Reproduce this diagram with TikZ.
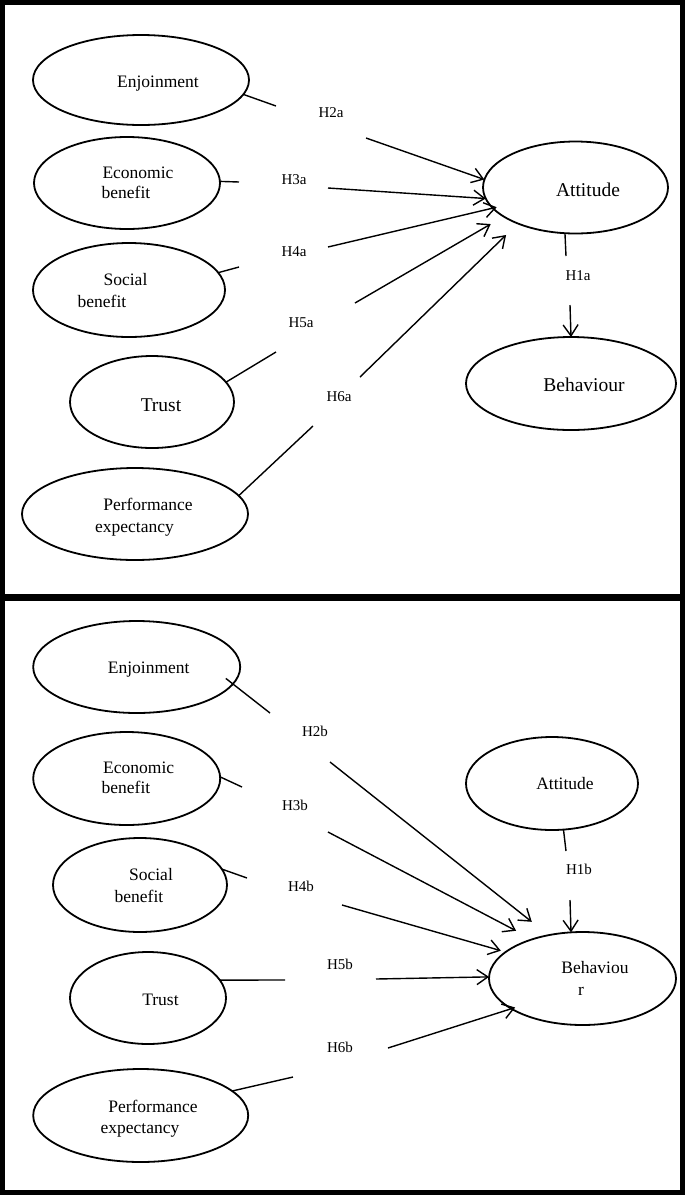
\documentclass[tikz,border=0pt]{standalone}
\usepackage{fontspec}
\setmainfont{Liberation Serif}
\usetikzlibrary{shapes.geometric,arrows.meta}
\begin{document}
\begin{tikzpicture}[x=1pt,y=-1pt,
 ell/.style={draw,ellipse,line width=1.8pt,inner sep=0pt,outer sep=0pt},
 txt/.style={font=\fontsize{17.5}{20}\selectfont,anchor=base,inner sep=0pt},
 big/.style={font=\fontsize{19.5}{22}\selectfont,anchor=base,inner sep=0pt},
 hlab/.style={font=\fontsize{15}{17}\selectfont,anchor=base,inner sep=0pt},
 conn/.style={line width=1.4pt},
 arr/.style={line width=1.4pt,-{Straight Barb[length=11pt,width=15pt]}},
 frame/.style={line width=4.5pt}]
\useasboundingbox (0,0) rectangle (685,1195);
\fill[white] (0,0) rectangle (685,1195);
% frames
\draw[frame] (2.5,2.5) rectangle (682.5,596.3);
\draw[frame] (2.5,598.7) rectangle (682.5,1192.5);

% ===== top panel =====
\node[ell,minimum width=216pt,minimum height=90pt] (enjA) at (141,80) {};
\node[ell,minimum width=186pt,minimum height=92pt] (ecoA) at (127,183) {};
\node[ell,minimum width=192pt,minimum height=94pt] (socA) at (129,290) {};
\node[ell,minimum width=164pt,minimum height=92pt] (truA) at (152,402) {};
\node[ell,minimum width=226pt,minimum height=92pt] (perA) at (135,514) {};
\node[ell,minimum width=185pt,minimum height=92pt] (attA) at (575.5,187.5) {};
\node[ell,minimum width=210pt,minimum height=93pt] (behA) at (571,383.5) {};

\node[txt] (tEnjA) at (158,87.5) {Enjoinment};
\node[txt] (tEcoA1) at (138,178.5) {Economic};
\node[txt] (tEcoA2) at (126,198.5) {benefit};
\node[txt] (tSocA1) at (125.5,285.5) {Social};
\node[txt] (tSocA2) at (102,307.5) {benefit};
\node[big] (tTruA) at (161,411) {Trust};
\node[txt] (tPerA1) at (148,510.5) {Performance};
\node[txt] (tPerA2) at (134.5,532.5) {expectancy};
\node[big] (tAttA) at (588,196) {Attitude};
\node[big] (tBehA) at (584,391) {Behaviour};

\node[hlab] (h2a) at (331,117.5) {H2a};
\node[hlab] (h3a) at (294,184.5) {H3a};
\node[hlab] (h4a) at (294,256.5) {H4a};
\node[hlab] (h5a) at (301,327.5) {H5a};
\node[hlab] (h6a) at (339,401.5) {H6a};
\node[hlab] (h1a) at (578,280.5) {H1a};

\coordinate (c2a1) at (276,106); \coordinate (c2a2) at (366,138);
\coordinate (c3a1) at (239,182); \coordinate (c3a2) at (328,188);
\coordinate (c4a1) at (239,267); \coordinate (c4a2) at (328,247);
\coordinate (c5a1) at (276,352); \coordinate (c5a2) at (355,303);
\coordinate (c6a1) at (313,426); \coordinate (c6a2) at (360,377);
\coordinate (c1a1) at (566,256); \coordinate (c1a2) at (570,305);

\draw[conn] (enjA.-8) -- (c2a1);
\draw[arr] (c2a2) -- (attA.175.4);
\draw[conn] (ecoA.1) -- (c3a1);
\draw[arr] (c3a2) -- (attA.187.2);
\draw[conn] (socA.11) -- (c4a1);
\draw[arr,shorten >=-4pt] (c4a2) -- (attA.194.4);
\draw[conn] (truA.15) -- (c5a1);
\draw[arr,shorten >=15pt] (c5a2) -- (attA.202);
\draw[conn] (perA.10.5) -- (c6a1);
\draw[arr,shorten >=16.5pt] (c6a2) -- (attA.212);
\draw[conn] (attA.257.7) -- (c1a1);
\draw[arr] (c1a2) -- (behA.90);

% ===== bottom panel =====
\node[ell,minimum width=207pt,minimum height=92pt] (enjB) at (136.7,667) {};
\node[ell,minimum width=187pt,minimum height=93pt] (ecoB) at (126.7,778.5) {};
\node[ell,minimum width=174pt,minimum height=94pt] (socB) at (140,885) {};
\node[ell,minimum width=156pt,minimum height=92pt] (truB) at (148,998) {};
\node[ell,minimum width=215pt,minimum height=93pt] (perB) at (140.7,1115.5) {};
\node[ell,minimum width=172pt,minimum height=93pt] (attB) at (552,783.5) {};
\node[ell,minimum width=187pt,minimum height=93pt] (behB) at (582.5,978.5) {};

\node[txt] (tEnjB) at (148.7,673.5) {Enjoinment};
\node[txt] (tEcoB1) at (138.7,773.5) {Economic};
\node[txt] (tEcoB2) at (126,793.5) {benefit};
\node[txt] (tSocB1) at (151,880.5) {Social};
\node[txt] (tSocB2) at (139,902.5) {benefit};
\node[txt] (tTruB) at (160.5,1005.5) {Trust};
\node[txt] (tPerB1) at (153,1112.5) {Performance};
\node[txt] (tPerB2) at (140,1133.5) {expectancy};
\node[txt] (tAttB) at (565,789.5) {Attitude};
\node[txt] (tBehB1) at (595,973.5) {Behaviou};
\node[txt] (tBehB2) at (581,995.5) {r};

\node[hlab] (h2b) at (315,736.5) {H2b};
\node[hlab] (h3b) at (295,810.5) {H3b};
\node[hlab] (h4b) at (301,891.5) {H4b};
\node[hlab] (h5b) at (340,969.5) {H5b};
\node[hlab] (h6b) at (340,1052.5) {H6b};
\node[hlab] (h1b) at (579,874.5) {H1b};

\coordinate (c2b1) at (270,713); \coordinate (c2b2) at (330,762);
\coordinate (c3b1) at (242,787); \coordinate (c3b2) at (328,832);
\coordinate (c4b1) at (247,878); \coordinate (c4b2) at (342,905);
\coordinate (c5b1) at (285,980); \coordinate (c5b2) at (376,979);
\coordinate (c6b1) at (293,1077); \coordinate (c6b2) at (388,1048);
\coordinate (c1b1) at (566,851); \coordinate (c1b2) at (570,900);

\draw[conn,shorten <=-9pt] (enjB.-10.3) -- (c2b1);
\draw[arr,shorten >=21.5pt] (c2b2) -- (behB.128.8);
\draw[conn] (ecoB.1) -- (c3b1);
\draw[arr,shorten >=18.3pt] (c3b2) -- (behB.142.8);
\draw[conn] (socB.11.1) -- (c4b1);
\draw[arr,shorten >=5pt] (c4b2) -- (behB.161.5);
\draw[conn] (truB.14.1) -- (c5b1);
\draw[arr] (c5b2) -- (behB.179.5);
\draw[conn] (perB.15) -- (c6b1);
\draw[arr,shorten >=-4pt] (c6b2) -- (behB.203.6);
\draw[conn] (attB.284.6) -- (c1b1);
\draw[arr] (c1b2) -- (behB.104);
\end{tikzpicture}
\end{document}
